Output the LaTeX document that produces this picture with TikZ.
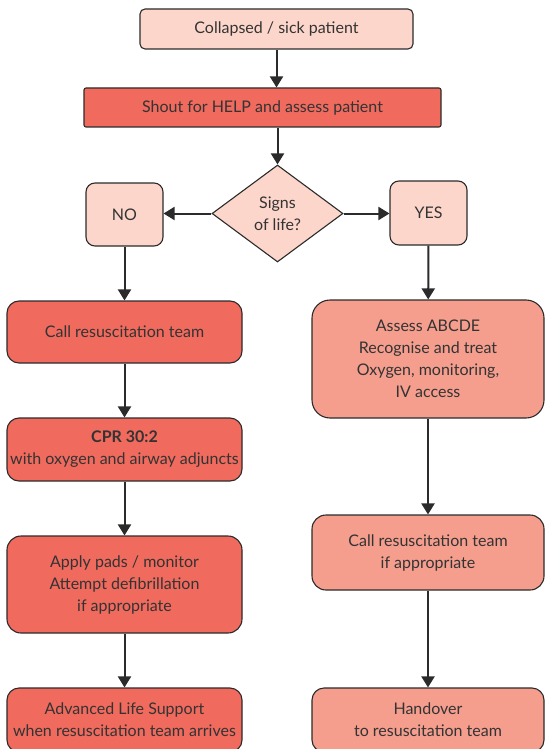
\documentclass[tikz,border=0pt]{standalone}
\usepackage{fontspec}
\setmainfont{Lato}
\usetikzlibrary{arrows.meta,shapes.geometric}
\definecolor{lightpink}{HTML}{FDD6CB}
\definecolor{redbox}{HTML}{F06A5E}
\definecolor{salmon}{HTML}{F59E8E}
\definecolor{edge}{HTML}{2B2B2B}
\definecolor{txt}{HTML}{333333}
\begin{document}
\begin{tikzpicture}[x=1pt,y=-1pt,
  box/.style={draw=edge, line width=1.1pt, rounded corners=#1, inner sep=0pt, align=center, text=txt,
    font=\fontsize{16}{22}\selectfont},
  box/.default=10pt,
  flow/.style={draw=edge, line width=2pt, -{Triangle[width=13pt,length=11pt]}}
]
\useasboundingbox (0,0) rectangle (545,749);
\node[box=5pt, fill=lightpink, minimum width=273pt, minimum height=40pt] (collapsed) at (276.5,29) {Collapsed / sick patient};
\node[box=2pt, fill=redbox, minimum width=357pt, minimum height=39pt] (shout) at (262.5,107.5) {Shout for HELP and assess patient};
\node[diamond, draw=edge, line width=1.1pt, fill=lightpink, minimum width=131pt, minimum height=97pt, inner sep=0pt, align=center, text=txt, font=\fontsize{16}{22}\selectfont] (signs) at (277.5,213.5) {Signs\\of life?};
\node[box=9pt, fill=lightpink, minimum width=77pt, minimum height=63pt] (no) at (124.5,214.5) {NO};
\node[box=9pt, fill=lightpink, minimum width=77pt, minimum height=64pt] (yes) at (428.5,213) {YES};
\node[box=12pt, fill=redbox, minimum width=235pt, minimum height=62pt] (call) at (124.5,332) {Call resuscitation team};
\node[box=12pt, fill=redbox, minimum width=235pt, minimum height=63pt] (cpr) at (124.5,449.5) {\textbf{CPR 30:2}\\with oxygen and airway adjuncts};
\node[box=14pt, fill=redbox, minimum width=235pt, minimum height=97pt] (pads) at (124.5,584.5) {Apply pads / monitor\\Attempt defibrillation\\if appropriate};
\node[box=12pt, fill=redbox, minimum width=235pt, minimum height=64pt] (als) at (124.5,720) {Advanced Life Support\\when resuscitation team arrives};
\node[box=18pt, fill=salmon, minimum width=232pt, minimum height=118pt] (assess) at (428,359) {Assess ABCDE\\Recognise and treat\\Oxygen, monitoring,\\IV access};
\node[box=14pt, fill=salmon, minimum width=232pt, minimum height=75pt] (call2) at (428,552.5) {Call resuscitation team\\if appropriate};
\node[box=12pt, fill=salmon, minimum width=232pt, minimum height=64pt] (hand) at (428,720) {Handover\\to resuscitation team};
\draw[flow] (collapsed) -- (collapsed |- shout.north);
\draw[flow] (shout.south -| signs) -- (signs.north);
\draw[flow] (signs.west) -- (signs.west -| no.east);
\draw[flow] (signs.east) -- (signs.east -| yes.west);
\draw[flow] (no) -- (call);
\draw[flow] (call) -- (cpr);
\draw[flow] (cpr) -- (pads);
\draw[flow] (pads) -- (als);
\draw[flow] (yes) -- (assess);
\draw[flow] (assess) -- (call2);
\draw[flow] (call2) -- (hand);
\end{tikzpicture}
\end{document}
